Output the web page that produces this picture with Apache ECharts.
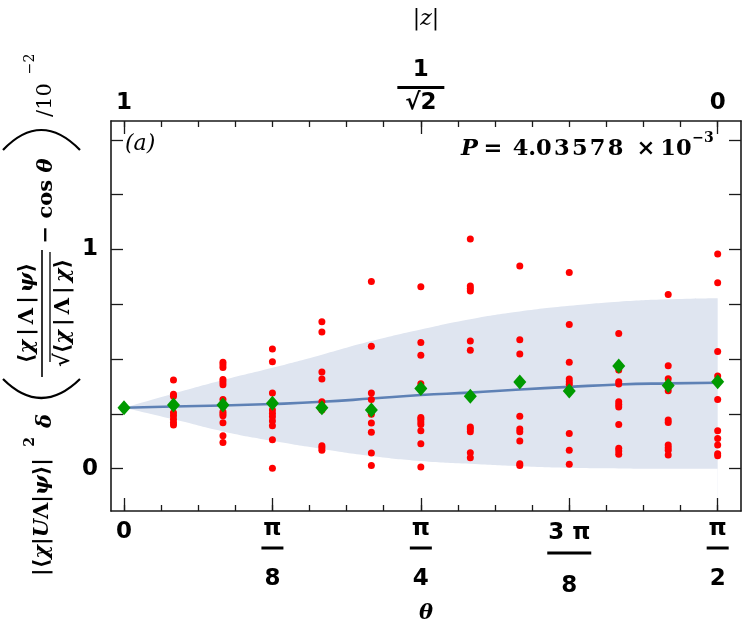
<!DOCTYPE html>
<html><head><meta charset="utf-8">
<script src="https://cdn.jsdelivr.net/npm/echarts@6/dist/echarts.min.js"></script>
<style>html,body{margin:0;padding:0;background:#fff}#c{width:747px;height:623px}</style>
</head><body><div id="c"></div><script>
// ---- data ----
const theta = [0, 0.1309, 0.2618, 0.3927, 0.5236, 0.6545, 0.7854, 0.9163, 1.0472, 1.1781, 1.3090, 1.4399, 1.5708];
const meanLine = [0.278, 0.284, 0.288, 0.295, 0.305, 0.320, 0.336, 0.347, 0.361, 0.373, 0.384, 0.389, 0.392];
const bandUpper = [0.278, 0.342, 0.404, 0.460, 0.520, 0.582, 0.635, 0.682, 0.717, 0.743, 0.762, 0.773, 0.778];
const bandLower = [0.278, 0.225, 0.170, 0.127, 0.090, 0.058, 0.035, 0.022, 0.011, 0.004, 0.001, 0.0, 0.0];
const diamonds = [0.278, 0.290, 0.290, 0.298, 0.278, 0.268, 0.366, 0.330, 0.395, 0.354, 0.468, 0.380, 0.397];
const redDots = [
  [0.278],
  [0.404, 0.340, 0.331, 0.255, 0.242, 0.225, 0.211, 0.199],
  [0.485, 0.474, 0.462, 0.407, 0.395, 0.383, 0.316, 0.260, 0.251, 0.242, 0.210, 0.150, 0.120],
  [0.546, 0.488, 0.345, 0.268, 0.252, 0.237, 0.217, 0.196, 0.132, 0.002],
  [0.670, 0.623, 0.441, 0.409, 0.305, 0.268, 0.105, 0.096, 0.084],
  [0.854, 0.558, 0.345, 0.316, 0.248, 0.208, 0.166, 0.072, 0.014],
  [0.830, 0.576, 0.517, 0.388, 0.234, 0.225, 0.213, 0.202, 0.173, 0.114, 0.008],
  [1.048, 0.833, 0.822, 0.811, 0.582, 0.540, 0.190, 0.181, 0.169, 0.073, 0.050],
  [0.925, 0.588, 0.523, 0.239, 0.181, 0.169, 0.126, 0.023, 0.014],
  [0.895, 0.658, 0.486, 0.409, 0.397, 0.385, 0.161, 0.084, 0.020],
  [0.617, 0.450, 0.397, 0.386, 0.305, 0.293, 0.281, 0.202, 0.093, 0.081, 0.066],
  [0.795, 0.470, 0.410, 0.356, 0.222, 0.211, 0.108, 0.096, 0.084, 0.062],
  [0.979, 0.848, 0.535, 0.423, 0.316, 0.173, 0.138, 0.108, 0.068, 0.059]
];
const xMajorTicks = [0, Math.PI / 8, Math.PI / 4, 3 * Math.PI / 8, Math.PI / 2];
const xMajorLabels = ['0', 'π/8', 'π/4', '3 π/8', 'π/2'];
const xMinorTicks = [];
for (let k = 0; k <= 16; k++) xMinorTicks.push(k * Math.PI / 32);
const zTicks = [0, Math.PI / 4, Math.PI / 2];
const zLabels = ['1', '1/√2', '0'];
const yTicks = [0, 0.25, 0.5, 0.75, 1, 1.25, 1.5];
const yLabelTicks = [0, 1];
const pValueText = '4.03578';
const XMIN = -0.0344, XMAX = 1.6325, YMIN = -0.193, YMAX = 1.586;

// ---- build ----
const pairs = arr => theta.map((t, i) => [t, arr[i]]);
const dotData = [];
redDots.forEach((col, i) => col.forEach(v => dotData.push([theta[i], v])));

const SANS = 'DejaVu Sans', SERIF = 'DejaVu Serif';
const num = (lh) => ({fontSize: 23, fontWeight: 'bold', fontFamily: SANS, color: '#000', lineHeight: lh});
function findIdx(arr, v) { return arr.findIndex(a => Math.abs(a - v) < 1e-6); }
const frame = {lineStyle: {color: '#1a1a1a', width: 1.6}};
const tickStyle = {color: '#1a1a1a', width: 1.3};
const baseX = {type: 'value', min: XMIN, max: XMAX, splitLine: {show: false}, z: 10};
const baseY = {type: 'value', min: YMIN, max: YMAX, splitLine: {show: false}, z: 10};

function bottomLabel(v) {
  const i = findIdx(xMajorTicks, v);
  if (i < 0) return '';
  const p = xMajorLabels[i].split('/');
  if (p.length === 1) return '{z0|' + p[0] + '}';
  if (i === 3) return '{n2|' + p[0] + '}\n{barw| }\n{d2|' + p[1] + '}';
  return '{n|' + p[0] + '}\n{bar| }\n{d|' + p[1] + '}';
}
function topLabel(v) {
  const i = findIdx(zTicks, v);
  if (i < 0) return '';
  const p = zLabels[i].split('/');
  if (p.length === 1) return '{zb|' + p[0] + '}';
  return '{zt|' + p[0] + '}\n{barz| }\n{zb|' + p[1] + '}';
}
// P value text
const pTxt = {fontFamily: SERIF, fontWeight: 'bold', fontSize: 22.5, lineHeight: 30, verticalAlign: 'bottom', align: 'center'};
const pRich = {
  p: Object.assign({}, pTxt, {fontStyle: 'italic', width: 20, align: 'left'}),
  e: Object.assign({}, pTxt, {width: 24}),
  g: Object.assign({}, pTxt, {width: 126, align: 'center'}),
  x: Object.assign({}, pTxt, {width: 30}),
  t: Object.assign({}, pTxt, {width: 30}),
  s: {fontFamily: SERIF, fontWeight: 'bold', fontSize: 14, lineHeight: 30, verticalAlign: 'top', width: 24, align: 'center'}
};
const pParts = pValueText.split('.');
const pDigits = pParts[0] + '.' + pParts[1].split('').join('\u200A');
const pText = '{p|P}{e|=}{g|' + pDigits + '}{x|×}{t|10}{s|−3}';

// rotated title text helper
const R = Math.PI / 2;
const tm = (size, italic) => ({fontFamily: SERIF, fontWeight: 'bold', fontStyle: italic ? 'italic' : 'normal', fontSize: size});
function rtext(x, y, text, size) {
  return {type: 'text', x: x, y: y, rotation: R, style: {text: text, align: 'center', verticalAlign: 'middle',
    rich: {m: tm(size, false), i: tm(size, true), sp: Object.assign(tm(size, false), {width: 4})}}};
}

const chart = echarts.init(document.getElementById('c'), null, {renderer: 'canvas'});
chart.setOption({
  animation: false,
  grid: {left: 111, right: 6, top: 121, bottom: 112, outerBoundsMode: 'none'},
  xAxis: [
    Object.assign({}, baseX, {
      position: 'bottom',
      axisLine: Object.assign({show: true, onZero: false}, frame),
      axisTick: {show: true, inside: true, length: 13, customValues: xMajorTicks, lineStyle: tickStyle},
      axisLabel: {show: true, customValues: xMajorTicks, margin: 6, formatter: bottomLabel,
        rich: {z0: num(30), n: num(24), d: num(49), n2: num(32), d2: num(59),
          bar: {width: 22, height: 3, backgroundColor: '#000', lineHeight: 14},
          barw: {width: 44, height: 3, backgroundColor: '#000', lineHeight: 8}}},
      name: 'θ', nameLocation: 'middle', nameGap: 75,
      nameTextStyle: {fontFamily: SERIF, fontStyle: 'italic', fontWeight: 'bold', fontSize: 21, color: '#000'}
    }),
    Object.assign({}, baseX, {
      position: 'bottom', axisLine: {show: false, onZero: false},
      axisTick: {show: true, inside: true, length: 6, customValues: xMinorTicks, lineStyle: tickStyle},
      axisLabel: {show: false}
    }),
    Object.assign({}, baseX, {
      position: 'top',
      axisLine: Object.assign({show: true, onZero: false}, frame),
      axisTick: {show: true, inside: true, length: 13, customValues: zTicks, lineStyle: tickStyle},
      axisLabel: {show: true, customValues: zTicks, margin: 6, formatter: topLabel,
        rich: {zt: num(28), zb: num(24), barz: {width: 47, height: 3, backgroundColor: '#000', lineHeight: 7}}},
      name: '|z|', nameLocation: 'middle', nameGap: 91,
      nameTextStyle: {fontFamily: SERIF, fontStyle: 'italic', fontSize: 22, color: '#000'}
    }),
    Object.assign({}, baseX, {
      position: 'top', axisLine: {show: false, onZero: false},
      axisTick: {show: true, inside: true, length: 6, customValues: xMinorTicks, lineStyle: tickStyle},
      axisLabel: {show: false}
    })
  ],
  yAxis: [
    Object.assign({}, baseY, {
      position: 'left',
      axisLine: Object.assign({show: true, onZero: false}, frame),
      axisTick: {show: true, inside: true, length: 12, customValues: yTicks, lineStyle: tickStyle},
      axisLabel: {show: true, customValues: yLabelTicks, margin: 13, fontSize: 23, fontWeight: 'bold', fontFamily: SANS, color: '#000'}
    }),
    Object.assign({}, baseY, {
      position: 'right',
      axisLine: Object.assign({show: true, onZero: false}, frame),
      axisTick: {show: true, inside: true, length: 12, customValues: yTicks, lineStyle: tickStyle},
      axisLabel: {show: false}
    })
  ],
  series: [
    {type: 'line', data: pairs(bandUpper), smooth: true, symbol: 'none', lineStyle: {width: 0, opacity: 0},
     areaStyle: {color: '#dfe5f0', opacity: 1, origin: 'start'}, silent: true, z: 1},
    {type: 'line', data: pairs(bandLower), smooth: true, symbol: 'none', lineStyle: {width: 0, opacity: 0},
     areaStyle: {color: '#ffffff', opacity: 1, origin: 'start'}, silent: true, z: 2},
    {type: 'line', data: pairs(meanLine), smooth: true, symbol: 'none', lineStyle: {color: '#5e81b5', width: 2.6}, z: 3},
    {type: 'scatter', data: dotData, symbol: 'circle', symbolSize: 7, itemStyle: {color: '#ff0000', opacity: 1}, z: 4},
    {type: 'scatter', data: pairs(diamonds), symbol: 'diamond', symbolSize: [13, 15], itemStyle: {color: '#009a00', opacity: 1}, z: 5}
  ],
  graphic: [
    {type: 'text', left: 125, top: 133, style: {text: '(a)', fontFamily: SERIF, fontStyle: 'italic', fontSize: 22, fill: '#000'}},
    {type: 'text', left: 461, top: 131, style: {text: pText, rich: pRich}},
    // y-axis title pieces (rotated, read bottom to top)
    rtext(43, 517, '{m||⟨}{i|χ}{m||}{i|U}{m|Λ|}{i|ψ}{m|⟩|}', 21),
    {type: 'text', x: 30, y: 442, rotation: R, style: {text: '2', align: 'center', verticalAlign: 'middle', fontFamily: SERIF, fontWeight: 'bold', fontSize: 14, fill: '#000'}},
    rtext(46, 421, '{i|δ}', 21),
    {type: 'bezierCurve', shape: {x1: 3, y1: 379, x2: 80, y2: 379, cpx1: 41, cpy1: 417}, style: {stroke: '#000', lineWidth: 2.2, fill: null}},
    rtext(28, 313, '{m|⟨}{i|χ}{sp| }{m||}{sp| }{m|Λ}{sp| }{m||}{sp| }{i|ψ}{m|⟩}', 21),
    {type: 'line', shape: {x1: 42, y1: 250, x2: 42, y2: 377}, style: {stroke: '#000', lineWidth: 1.6}},
    rtext(64, 313, '{m|√}{m|⟨}{i|χ}{sp| }{m||}{sp| }{m|Λ}{sp| }{m||}{sp| }{i|χ}{m|⟩}', 21),
    {type: 'line', shape: {x1: 50, y1: 252, x2: 50, y2: 362}, style: {stroke: '#000', lineWidth: 1.3}},
    rtext(47, 201, '{m|− cos }{i|θ}', 21),
    {type: 'bezierCurve', shape: {x1: 3, y1: 150, x2: 80, y2: 150, cpx1: 41, cpy1: 110}, style: {stroke: '#000', lineWidth: 2.2, fill: null}},
    {type: 'text', x: 46, y: 100, rotation: R, style: {text: '/10', align: 'center', verticalAlign: 'middle', fontFamily: SERIF, fontSize: 21, fill: '#000'}},
    {type: 'text', x: 30, y: 64, rotation: R, style: {text: '−2', align: 'center', verticalAlign: 'middle', fontFamily: SERIF, fontSize: 14, fill: '#000'}}
  ]
});
</script></body></html>
